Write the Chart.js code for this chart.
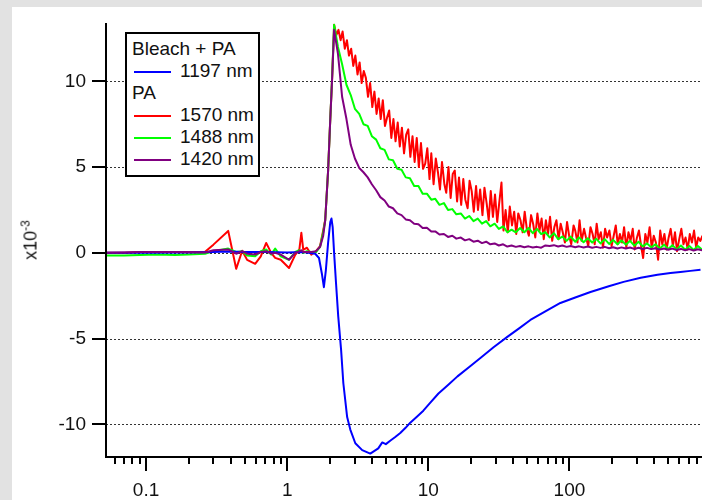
<!DOCTYPE html>
<html>
<head>
<meta charset="utf-8">
<title>Bleach + PA kinetics</title>
<script src="https://cdn.jsdelivr.net/npm/chart.js@4.4.1/dist/chart.umd.min.js"></script>
<style>
  body { margin: 0; background: #e2e2e2; font-family: "Liberation Sans", Arial, sans-serif; }
  #wrap { position: relative; width: 702px; height: 500px; overflow: hidden; }
  #panel { position: absolute; left: 12px; top: 7px; width: 690px; height: 493px; background: #fff; }
  #myChart { position: absolute; left: 0; top: 0; }
  #ytitle { position: absolute; left: 28px; top: 240px; transform: translate(-50%, -50%) rotate(-90deg);
            font-size: 18px; color: #111; white-space: nowrap; line-height: 20px; }
  #ytitle sup { font-size: 12px; }
  #legend { position: absolute; left: 125px; top: 32px; width: 135px; height: 145px; box-sizing: border-box;
            border: 2px solid #000; background: #fff; padding-top: 4px; font-size: 19px; color: #111; }
  #legend .row { height: 22px; line-height: 22px; white-space: nowrap; }
  #legend .head { padding-left: 5px; }
  #legend .swatch { display: inline-block; width: 37px; height: 2px; margin-left: 7px; margin-right: 9px; vertical-align: middle; }
</style>
</head>
<body>

<div id="wrap">
  <div id="panel"></div>
  <canvas id="myChart" width="702" height="500"></canvas>
  <div id="ytitle">x10<sup>-3</sup></div>
  <div id="legend"></div>
</div>

<script>
// axis ticks
const xTickValues = [0.1, 1, 10, 100];
const xTickLabels = ["0.1", "1", "10", "100"];
const yTickValues = [-10, -5, 0, 5, 10];

// time points before and during the rise (shared by the PA traces)
const timeEarly = [
  0.052, 0.07, 0.09, 0.12, 0.16, 0.2, 0.262, 0.3, 0.382, 0.435, 0.48, 0.52, 0.593, 0.65, 0.71, 0.77,
  0.822, 0.9, 1.03, 1.14, 1.22, 1.26, 1.3, 1.38, 1.48, 1.6, 1.71, 1.8, 1.86, 1.95, 2.02, 2.08
];

// decay time points for 1488 / 1420 nm
const timeDecay = [
  2.15, 2.29, 2.45, 2.63, 2.82, 3.02, 3.24, 3.47, 3.72, 3.98,
  4.27, 4.57, 4.90, 5.25, 5.62, 6.03, 6.46, 6.92, 7.41, 7.94,
  8.51, 9.12, 9.77, 10.5, 11.2, 12.0, 12.9, 13.8, 14.8, 15.8,
  17.0, 18.2, 19.5, 20.9, 22.4, 24.0, 25.7, 27.5, 29.5, 31.6,
  33.9, 36.3, 38.9, 41.7, 44.7, 47.9, 51.3, 55.0, 58.9, 63.1,
  67.6, 72.4, 77.6, 83.2, 89.1, 95.5, 102, 110, 117, 126,
  135, 145, 155, 166, 178, 191, 204, 219, 234, 251,
  269, 288, 309, 331, 355, 380, 407, 437, 468, 501,
  537, 575, 617, 661, 708, 759, 813, 871
];

// the 1570 nm trace is noisier, sampled more finely
const timeDecayRed = [
  2.15, 2.23, 2.31, 2.39, 2.47, 2.56, 2.65, 2.74, 2.84, 2.94,
  3.04, 3.15, 3.26, 3.37, 3.49, 3.61, 3.74, 3.87, 4.01, 4.15,
  4.30, 4.45, 4.60, 4.76, 4.93, 5.11, 5.28, 5.47, 5.66, 5.86,
  6.07, 6.28, 6.50, 6.73, 6.97, 7.21, 7.46, 7.73, 8.00, 8.28,
  8.57, 8.87, 9.18, 9.51, 9.84, 10.2, 10.5, 10.9, 11.3, 11.7,
  12.1, 12.5, 13.0, 13.4, 13.9, 14.4, 14.9, 15.4, 16.0, 16.5,
  17.1, 17.7, 18.3, 19.0, 19.6, 20.3, 21.0, 21.8, 22.5, 23.3,
  24.2, 25.0, 25.9, 26.8, 27.7, 28.7, 29.7, 30.8, 31.8, 33.0,
  34.1, 35.3, 36.6, 37.8, 39.2, 40.6, 42.0, 43.4, 45.0, 46.6,
  48.2, 49.9, 51.6, 53.5, 55.3, 57.3, 59.3, 61.4, 63.5, 65.8,
  68.1, 70.5, 72.9, 75.5, 78.2, 80.9, 83.8, 86.7, 89.7, 92.9,
  96.2, 99.5, 103, 107, 110, 114, 118, 122, 127, 131,
  136, 141, 146, 151, 156, 161, 167, 173, 179, 185,
  192, 199, 206, 213, 220, 228, 236, 244, 253, 262,
  271, 281, 290, 301, 311, 322, 333, 345, 357, 370,
  383, 396, 410, 425, 440, 455, 471, 488, 505, 522,
  541, 560, 579, 600, 621, 643, 665, 689, 713, 738,
  764, 791, 818, 847, 877
];

const pa1570 = [
  // early
  0, 0, 0.05, 0.05, 0.05, 0.05, 0.06, 0.48, 1.28, -0.93, 0.12, -0.41, -0.64, -0.2, 0.58, 0,
  -0.29, -0.4, -0.88, -0.12, 0.2, 1.17, 0.18, 0.3, -0.1, 0.1, 0.4, 1.3, 1.93, 4.8, 7.8, 10.1,
  // decay
  13.3, 12.7, 13.0, 12.4, 12.9, 11.9, 12.4, 11.5, 11.9, 10.9,
  11.5, 10.4, 11.1, 9.9, 10.6, 10.2, 9.1, 9.9, 8.5, 9.4,
  8.1, 9.0, 7.8, 8.9, 7.4, 7.9, 8.3, 6.7, 7.8, 6.5,
  7.6, 6.2, 7.3, 5.8, 6.9, 7.2, 5.6, 6.8, 5.3, 6.7,
  5.0, 6.4, 4.9, 5.2, 6.1, 4.3, 5.8, 4.0, 5.5, 4.7,
  3.7, 5.3, 4.0, 3.5, 5.0, 3.2, 4.6, 4.8, 3.0, 4.4,
  2.8, 4.3, 3.1, 2.6, 4.2, 3.6, 2.4, 3.9, 2.5, 3.7,
  2.2, 3.8, 2.9, 1.9, 3.6, 2.1, 3.4, 1.8, 2.9, 4.1,
  1.3, 2.5, 1.2, 2.7, 1.6, 2.4, 1.1, 2.3, 1.9, 1.2,
  2.4, 1.4, 1.0, 2.2, 1.7, 0.9, 2.3, 1.3, 2.0, 0.8,
  1.9, 1.1, 2.1, 0.7, 1.5, 1.9, 0.8, 1.7, 1.2, 0.6,
  1.8, 1.0, 0.5, 1.6, 1.3, 0.6, 1.9, 0.7, 1.4, 0.9,
  0.4, 1.5, 1.1, 0.5, 1.7, 0.8, 1.2, 0.3, 1.4, 0.9,
  1.3, 0.4, 1.0, 1.6, 0.5, 1.1, 0.6, 1.5, 0.3, 1.2,
  0.7, 1.4, 0.2, 0.9, 1.3, 0.4, -0.3, 1.1, 0.6, 1.5,
  0.3, 1.0, 0.6, -0.4, 1.3, 0.5, 1.1, 0.2, 0.9, 1.4,
  0.4, 1.2, 0.1, 0.8, 1.4, 0.5, 0.9, 0.2, 1.1, 0.6,
  1.3, 0.3, 0.9, 0.7, 1.0
];

const pa1488 = [
  -0.15, -0.15, -0.12, -0.1, -0.12, -0.1, -0.05, 0.1, 0.25, 0.05, 0.1, -0.15, -0.2, 0.1, 0.2, -0.1,
  0.25, -0.2, -0.4, 0.05, 0.15, 0.1, 0.0, 0.1, 0.05, 0.05, 0.35, 1.2, 1.9, 4.8, 7.8, 10.2,
  13.3, 12.0, 11.0, 9.8, 9.2, 8.4, 8.1, 7.5, 7.4, 6.8,
  6.6, 6.1, 6.0, 5.45, 5.4, 4.9, 4.85, 4.4, 4.35, 3.9,
  3.9, 3.45, 3.45, 3.1, 3.15, 2.8, 2.9, 2.5, 2.55, 2.25,
  2.3, 2.0, 2.15, 1.85, 2.0, 1.7, 1.85, 1.55, 1.7, 1.4,
  1.55, 1.2, 1.35, 1.2, 1.45, 1.2, 1.45, 1.15, 1.4, 1.1,
  1.2, 0.9, 1.15, 0.8, 0.95, 0.7, 0.95, 0.65, 0.9, 0.62,
  0.85, 0.6, 0.82, 0.55, 0.8, 0.52, 0.76, 0.5, 0.72, 0.48,
  0.7, 0.42, 0.65, 0.38, 0.55, 0.32, 0.5, 0.26, 0.48, 0.23,
  0.45, 0.2, 0.43, 0.18, 0.4, 0.17, 0.4, 0.18
];

const pa1420 = [
  0, 0.02, 0.05, 0.05, 0.05, 0.03, 0.02, 0.15, 0.2, -0.05, 0.1, -0.05, -0.1, 0.05, 0.1, -0.05,
  0, -0.1, -0.4, 0, 0.1, 0.15, 0.05, 0.05, 0.05, 0.1, 0.35, 1.0, 1.9, 4.8, 7.8, 10.1,
  13.0, 11.6, 9.1, 7.8, 6.3, 5.5, 4.95, 4.7, 4.4, 4.0,
  3.65, 3.25, 3.05, 2.7, 2.6, 2.3, 2.2, 1.95, 1.9, 1.7,
  1.67, 1.45, 1.47, 1.25, 1.25, 1.07, 1.1, 0.93, 1.0, 0.83,
  0.89, 0.73, 0.8, 0.65, 0.71, 0.57, 0.65, 0.5, 0.55, 0.43,
  0.5, 0.37, 0.43, 0.35, 0.4, 0.33, 0.38, 0.31, 0.35, 0.3,
  0.43, 0.4, 0.45, 0.37, 0.43, 0.35, 0.4, 0.33, 0.38, 0.31,
  0.37, 0.3, 0.35, 0.29, 0.35, 0.27, 0.33, 0.25, 0.32, 0.25,
  0.31, 0.23, 0.3, 0.23, 0.29, 0.22, 0.27, 0.2, 0.25, 0.18,
  0.25, 0.17, 0.23, 0.15, 0.22, 0.14, 0.21, 0.15
];

// bleach trace has its own time points
const timeBleach = [
  0.052, 0.1, 0.2, 0.3, 0.38, 0.5, 0.7, 1.0, 1.3, 1.58, 1.68, 1.76, 1.82, 1.88, 1.95, 2.02,
  2.06, 2.1, 2.15, 2.22, 2.3, 2.41, 2.5, 2.66, 2.8, 3.04, 3.4, 3.88, 4.42, 4.72, 5.0, 5.37,
  5.8, 6.33, 6.9, 7.45, 8.3, 9.22, 10.3, 11.8, 13.8, 16.1, 19.5, 23.4, 29, 36.3,
  44, 52.9, 68, 86.3, 110, 141, 190, 242, 320, 421, 520, 612, 720, 849
];
const bleach1197 = [
  0.0, 0.0, 0.02, 0.05, 0.08, 0.05, 0.05, 0.02, 0.05, -0.05, -0.3, -1.2, -2.0, -1.0, 0.6, 1.8,
  2.0, 1.5, 0.0, -1.8, -3.7, -5.66, -7.6, -9.57, -10.3, -11.1, -11.5, -11.7, -11.4, -11.05, -11.15, -10.95,
  -10.75, -10.5, -10.2, -9.9, -9.55, -9.2, -8.75, -8.2, -7.7, -7.2, -6.65, -6.13, -5.5, -4.9,
  -4.4, -3.91, -3.4, -2.92, -2.6, -2.28, -1.95, -1.69, -1.45, -1.28, -1.18, -1.11, -1.05, -0.99
];

const series = [
  { group: "Bleach + PA", label: "1197 nm", t: timeBleach, v: bleach1197, color: "#0000ff", order: 1 },
  { group: "PA", label: "1570 nm", t: timeEarly.concat(timeDecayRed), v: pa1570, color: "#ff0000", order: 3 },
  { group: "PA", label: "1488 nm", t: timeEarly.concat(timeDecay), v: pa1488, color: "#00ff00", order: 2 },
  { group: "PA", label: "1420 nm", t: timeEarly.concat(timeDecay), v: pa1420, color: "#800080", order: 0 }
];

// legend with group headings
const legend = document.getElementById("legend");
let lastGroup = null;
series.forEach(function(s) {
  if (s.group !== lastGroup) {
    const h = document.createElement("div");
    h.className = "row head";
    h.textContent = s.group;
    legend.appendChild(h);
    lastGroup = s.group;
  }
  const r = document.createElement("div");
  r.className = "row";
  r.innerHTML = '<span class="swatch" style="background:' + s.color + '"></span>' + s.label;
  legend.appendChild(r);
});

const tickFont = { family: "'Liberation Sans', Arial, sans-serif", size: 19 };

// dotted grid, axis lines and tick marks
const framePlugin = {
  id: "frame",
  beforeDatasetsDraw(chart) {
    const ctx = chart.ctx, a = chart.chartArea, y = chart.scales.y;
    ctx.save();
    ctx.strokeStyle = "#333";
    ctx.lineWidth = 1;
    ctx.setLineDash([2, 2]);
    yTickValues.forEach(function(v) {
      const py = Math.round(y.getPixelForValue(v)) + 0.5;
      ctx.beginPath();
      ctx.moveTo(a.left, py);
      ctx.lineTo(a.right, py);
      ctx.stroke();
    });
    ctx.restore();
  },
  afterDatasetsDraw(chart) {
    const ctx = chart.ctx, a = chart.chartArea, x = chart.scales.x, y = chart.scales.y;
    ctx.save();
    ctx.fillStyle = "#000";
    ctx.fillRect(a.left - 1, a.top, 2, a.bottom - a.top + 1);
    ctx.fillRect(a.left - 1, a.bottom - 1, a.right - a.left + 1, 2);
    yTickValues.forEach(function(v) {
      const py = Math.round(y.getPixelForValue(v));
      ctx.fillRect(a.left - 14, py - 1, 14, 2);
    });
    for (let d = 0.01; d < 1000; d *= 10) {
      for (let k = 1; k < 10; k++) {
        const val = d * k;
        if (val < x.min || val > x.max) continue;
        const px = Math.round(x.getPixelForValue(val));
        ctx.fillRect(px - 1, a.bottom, 2, k === 1 ? 14 : 7);
      }
    }
    ctx.restore();
  }
};

new Chart("myChart", {
  type: "scatter",
  data: {
    datasets: series.map(function(s) {
      return {
        label: s.label,
        data: s.t.map(function(t, i) { return { x: t, y: s.v[i] }; }),
        borderColor: s.color,
        backgroundColor: s.color,
        showLine: true,
        pointRadius: 0,
        borderWidth: 2,
        borderJoinStyle: "round",
        tension: 0,
        order: s.order
      };
    })
  },
  options: {
    responsive: false,
    animation: false,
    devicePixelRatio: 1,
    layout: { padding: { top: 23, left: 0, right: 0, bottom: 0 } },
    plugins: { legend: { display: false }, tooltip: { enabled: false } },
    scales: {
      x: {
        type: "logarithmic",
        min: 0.052,
        max: 870,
        grid: { display: false, drawTicks: false },
        border: { display: false },
        afterBuildTicks: function(s) { s.ticks = xTickValues.map(function(v) { return { value: v }; }); },
        afterFit: function(s) { s.height = 43; s.paddingLeft = 0; s.paddingRight = 0; },
        ticks: {
          padding: 22, color: "#111", font: tickFont, maxRotation: 0, autoSkip: false,
          callback: function(v) { return xTickLabels[xTickValues.indexOf(v)]; }
        }
      },
      y: {
        min: -11.9,
        max: 13.4,
        grid: { display: false, drawTicks: false },
        border: { display: false },
        afterBuildTicks: function(s) { s.ticks = yTickValues.map(function(v) { return { value: v }; }); },
        afterFit: function(s) { s.width = 106; s.paddingTop = 0; s.paddingBottom = 0; },
        ticks: { padding: 20, color: "#111", font: tickFont }
      }
    }
  },
  plugins: [framePlugin]
});
</script>

</body>
</html>
